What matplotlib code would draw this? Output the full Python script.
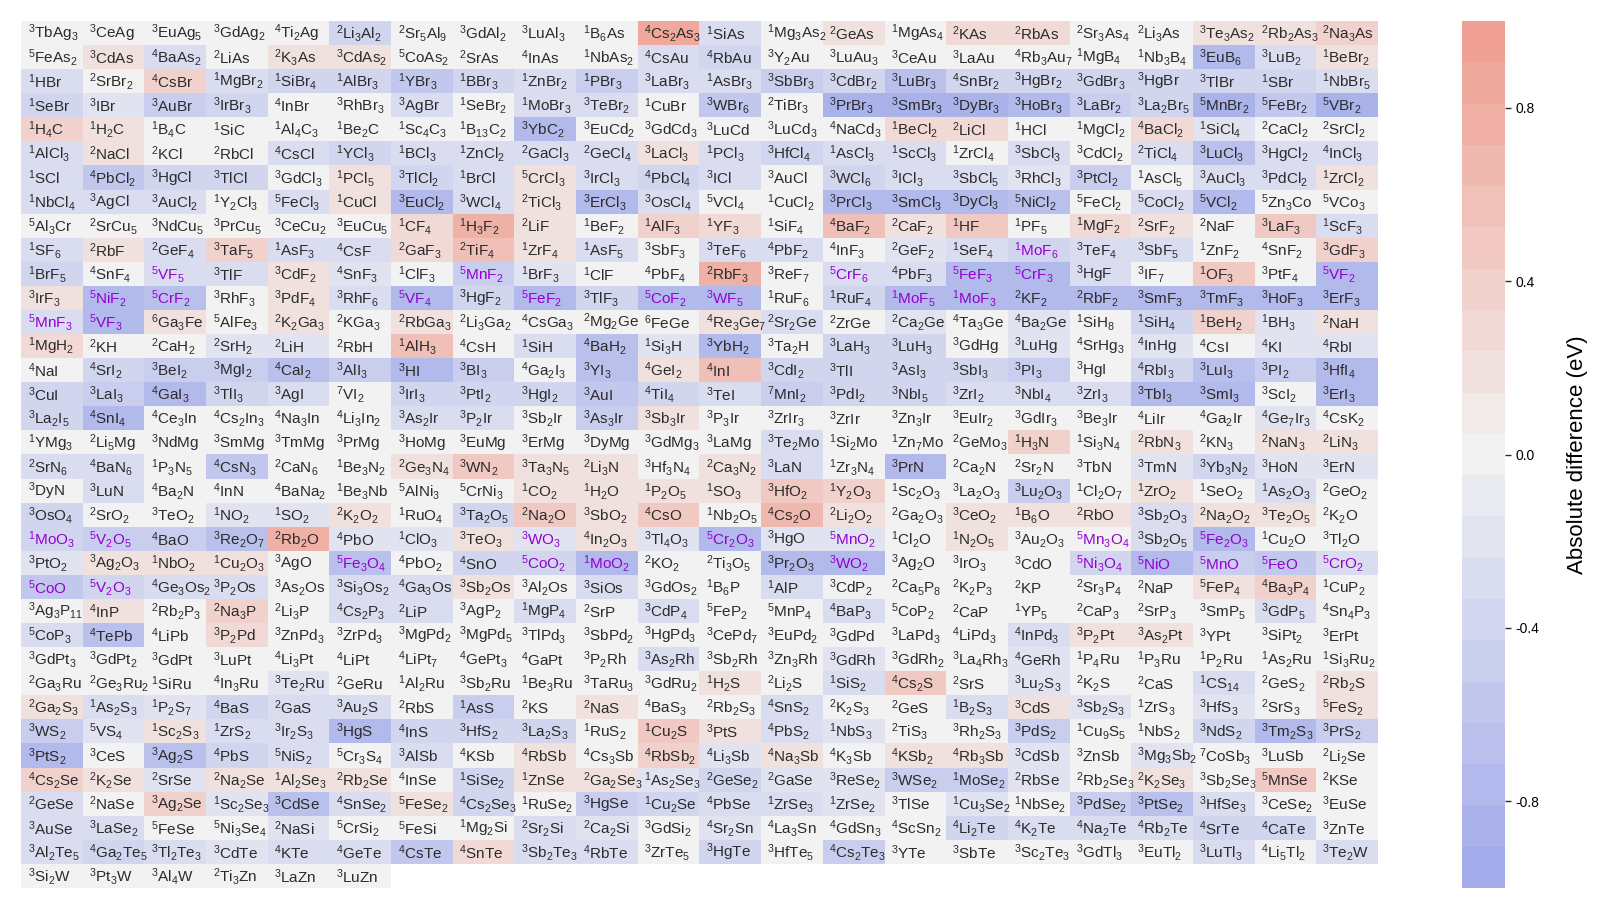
import re
import numpy as np
import matplotlib
matplotlib.use("Agg")
import matplotlib.pyplot as plt
from matplotlib.colors import LinearSegmentedColormap

plt.rcParams['font.family'] = ['Liberation Sans', 'DejaVu Sans']
plt.rcParams['mathtext.default'] = 'regular'
plt.rcParams['axes.unicode_minus'] = False

# compounds, one string per row: leading digit = spin multiplicity, rest = formula
rows = [
    "3TbAg3 3CeAg 3EuAg5 3GdAg2 4Ti2Ag 2Li3Al2 2Sr5Al9 3GdAl2 3LuAl3 1B6As 4Cs2As3 1SiAs 1Mg3As2 2GeAs 1MgAs4 2KAs 2RbAs 2Sr3As4 2Li3As 3Te3As2 2Rb2As3 2Na3As",
    "5FeAs2 3CdAs 4BaAs2 2LiAs 2K3As 3CdAs2 5CoAs2 2SrAs 4InAs 1NbAs2 4CsAu 4RbAu 3Y2Au 3LuAu3 3CeAu 3LaAu 4Rb3Au7 1MgB4 1Nb3B4 3EuB6 3LuB2 1BeBr2",
    "1HBr 2SrBr2 4CsBr 1MgBr2 1SiBr4 1AlBr3 1YBr3 1BBr3 1ZnBr2 1PBr3 3LaBr3 1AsBr3 3SbBr3 3CdBr2 3LuBr3 4SnBr2 3HgBr2 3GdBr3 3HgBr 3TlBr 1SBr 1NbBr5",
    "1SeBr 3IBr 3AuBr 3IrBr3 4InBr 3RhBr3 3AgBr 1SeBr2 1MoBr3 3TeBr2 1CuBr 3WBr6 2TiBr3 3PrBr3 3SmBr3 3DyBr3 3HoBr3 3LaBr2 3La2Br5 5MnBr2 5FeBr2 5VBr2",
    "1H4C 1H2C 1B4C 1SiC 1Al4C3 1Be2C 1Sc4C3 1B13C2 3YbC2 3EuCd2 3GdCd3 3LuCd 3LuCd3 4NaCd3 1BeCl2 2LiCl 1HCl 1MgCl2 4BaCl2 1SiCl4 2CaCl2 2SrCl2",
    "1AlCl3 2NaCl 2KCl 2RbCl 4CsCl 1YCl3 1BCl3 1ZnCl2 2GaCl3 2GeCl4 3LaCl3 1PCl3 3HfCl4 1AsCl3 1ScCl3 1ZrCl4 3SbCl3 3CdCl2 2TiCl4 3LuCl3 3HgCl2 4InCl3",
    "1SCl 4PbCl2 3HgCl 3TlCl 3GdCl3 1PCl5 3TlCl2 1BrCl 5CrCl3 3IrCl3 4PbCl4 3ICl 3AuCl 3WCl6 3ICl3 3SbCl5 3RhCl3 3PtCl2 1AsCl5 3AuCl3 3PdCl2 1ZrCl2",
    "1NbCl4 3AgCl 3AuCl2 1Y2Cl3 5FeCl3 1CuCl 3EuCl2 3WCl4 2TiCl3 3ErCl3 3OsCl4 5VCl4 1CuCl2 3PrCl3 3SmCl3 3DyCl3 5NiCl2 5FeCl2 5CoCl2 5VCl2 5Zn3Co 5VCo3",
    "5Al3Cr 2SrCu5 3NdCu5 3PrCu5 3CeCu2 3EuCu5 1CF4 1H3F2 2LiF 1BeF2 1AlF3 1YF3 1SiF4 4BaF2 2CaF2 1HF 1PF5 1MgF2 2SrF2 2NaF 3LaF3 1ScF3",
    "1SF6 2RbF 2GeF4 3TaF5 1AsF3 4CsF 2GaF3 2TiF4 1ZrF4 1AsF5 3SbF3 3TeF6 4PbF2 4InF3 2GeF2 1SeF4 1MoF6 3TeF4 3SbF5 1ZnF2 4SnF2 3GdF3",
    "1BrF5 4SnF4 5VF5 3TlF 3CdF2 4SnF3 1ClF3 5MnF2 1BrF3 1ClF 4PbF4 2RbF3 3ReF7 5CrF6 4PbF3 5FeF3 5CrF3 3HgF 3IF7 1OF3 3PtF4 5VF2",
    "3IrF3 5NiF2 5CrF2 3RhF3 3PdF4 3RhF6 5VF4 3HgF2 5FeF2 3TlF3 5CoF2 3WF5 1RuF6 1RuF4 1MoF5 1MoF3 2KF2 2RbF2 3SmF3 3TmF3 3HoF3 3ErF3",
    "5MnF3 5VF3 6Ga3Fe 5AlFe3 2K2Ga3 2KGa3 2RbGa3 2Li3Ga2 4CsGa3 2Mg2Ge 6FeGe 4Re3Ge7 2Sr2Ge 2ZrGe 2Ca2Ge 4Ta3Ge 4Ba2Ge 1SiH8 1SiH4 1BeH2 1BH3 2NaH",
    "1MgH2 2KH 2CaH2 2SrH2 2LiH 2RbH 1AlH3 4CsH 1SiH 4BaH2 1Si3H 3YbH2 3Ta2H 3LaH3 3LuH3 3GdHg 3LuHg 4SrHg3 4InHg 4CsI 4KI 4RbI",
    "4NaI 4SrI2 3BeI2 3MgI2 4CaI2 3AlI3 3HI 3BI3 4Ga2I3 3YI3 4GeI2 4InI 3CdI2 3TlI 3AsI3 3SbI3 3PI3 3HgI 4RbI3 3LuI3 3PI2 3HfI4",
    "3CuI 3LaI3 4GaI3 3TlI3 3AgI 7VI2 3IrI3 3PtI2 3HgI2 3AuI 4TiI4 3TeI 7MnI2 3PdI2 3NbI5 3ZrI2 3NbI4 3ZrI3 3TbI3 3SmI3 3ScI2 3ErI3",
    "3La2I5 4SnI4 4Ce3In 4Cs2In3 4Na3In 4Li3In2 3As2Ir 3P2Ir 3Sb2Ir 3As3Ir 3Sb3Ir 3P3Ir 3ZrIr3 3ZrIr 3Zn3Ir 3EuIr2 3GdIr3 3Be3Ir 4LiIr 4Ga2Ir 4Ge7Ir3 4CsK2",
    "1YMg3 2Li5Mg 3NdMg 3SmMg 3TmMg 3PrMg 3HoMg 3EuMg 3ErMg 3DyMg 3GdMg3 3LaMg 3Te2Mo 1Si2Mo 1Zn7Mo 2GeMo3 1H3N 1Si3N4 2RbN3 2KN3 2NaN3 2LiN3",
    "2SrN6 4BaN6 1P3N5 4CsN3 2CaN6 1Be3N2 2Ge3N4 3WN2 3Ta3N5 2Li3N 3Hf3N4 2Ca3N2 3LaN 1Zr3N4 3PrN 2Ca2N 2Sr2N 3TbN 3TmN 3Yb3N2 3HoN 3ErN",
    "3DyN 3LuN 4Ba2N 4InN 4BaNa2 1Be3Nb 5AlNi3 5CrNi3 1CO2 1H2O 1P2O5 1SO3 3HfO2 1Y2O3 1Sc2O3 3La2O3 3Lu2O3 1Cl2O7 1ZrO2 1SeO2 1As2O3 2GeO2",
    "3OsO4 2SrO2 3TeO2 1NO2 1SO2 2K2O2 1RuO4 3Ta2O5 2Na2O 3SbO2 4CsO 1Nb2O5 4Cs2O 2Li2O2 2Ga2O3 3CeO2 1B6O 2RbO 3Sb2O3 2Na2O2 3Te2O5 2K2O",
    "1MoO3 5V2O5 4BaO 3Re2O7 2Rb2O 4PbO 1ClO3 3TeO3 3WO3 4In2O3 3Tl4O3 5Cr2O3 3HgO 5MnO2 1Cl2O 1N2O5 3Au2O3 5Mn3O4 3Sb2O5 5Fe2O3 1Cu2O 3Tl2O",
    "3PtO2 3Ag2O3 1NbO2 1Cu2O3 3AgO 5Fe3O4 4PbO2 4SnO 5CoO2 1MoO2 2KO2 2Ti3O5 3Pr2O3 3WO2 3Ag2O 3IrO3 3CdO 5Ni3O4 5NiO 5MnO 5FeO 5CrO2",
    "5CoO 5V2O3 4Ge3Os2 3P2Os 3As2Os 3Si3Os2 4Ga3Os 3Sb2Os 3Al2Os 3SiOs 3GdOs2 1B6P 1AlP 3CdP2 2Ca5P8 2K2P3 2KP 2Sr3P4 2NaP 5FeP4 4Ba3P4 1CuP2",
    "3Ag3P11 4InP 2Rb2P3 2Na3P 2Li3P 4Cs2P3 2LiP 3AgP2 1MgP4 2SrP 3CdP4 5FeP2 5MnP4 4BaP3 5CoP2 2CaP 1YP5 2CaP3 2SrP3 3SmP5 3GdP5 4Sn4P3",
    "5CoP3 4TePb 4LiPb 3P2Pd 3ZnPd3 3ZrPd3 3MgPd2 3MgPd5 3TlPd3 3SbPd2 3HgPd3 3CePd7 3EuPd2 3GdPd 3LaPd3 4LiPd3 4InPd3 3P2Pt 3As2Pt 3YPt 3SiPt2 3ErPt",
    "3GdPt3 3GdPt2 3GdPt 3LuPt 4Li3Pt 4LiPt 4LiPt7 4GePt3 4GaPt 3P2Rh 3As2Rh 3Sb2Rh 3Zn3Rh 3GdRh 3GdRh2 3La4Rh3 4GeRh 1P4Ru 1P3Ru 1P2Ru 1As2Ru 1Si3Ru2",
    "2Ga3Ru 2Ge3Ru2 1SiRu 4In3Ru 3Te2Ru 2GeRu 1Al2Ru 3Sb2Ru 1Be3Ru 3TaRu3 3GdRu2 1H2S 2Li2S 1SiS2 4Cs2S 2SrS 3Lu2S3 2K2S 2CaS 1CS14 2GeS2 2Rb2S",
    "2Ga2S3 1As2S3 1P2S7 4BaS 2GaS 3Au2S 2RbS 1AsS 2KS 2NaS 4BaS3 2Rb2S3 4SnS2 2K2S3 2GeS 1B2S3 3CdS 3Sb2S3 1ZrS3 3HfS3 2SrS3 5FeS2",
    "3WS2 5VS4 1Sc2S3 1ZrS2 3Ir2S3 3HgS 4InS 3HfS2 3La2S3 1RuS2 1Cu2S 3PtS 4PbS2 1NbS3 2TiS3 3Rh2S3 3PdS2 1Cu9S5 1NbS2 3NdS2 3Tm2S3 3PrS2",
    "3PtS2 3CeS 3Ag2S 4PbS 5NiS2 5Cr3S4 3AlSb 4KSb 4RbSb 4Cs3Sb 4RbSb2 4Li3Sb 4Na3Sb 4K3Sb 4KSb2 4Rb3Sb 3CdSb 3ZnSb 3Mg3Sb2 7CoSb3 3LuSb 2Li2Se",
    "4Cs2Se 2K2Se 2SrSe 2Na2Se 1Al2Se3 2Rb2Se 4InSe 1SiSe2 1ZnSe 2Ga2Se3 1As2Se3 2GeSe2 2GaSe 3ReSe2 3WSe2 1MoSe2 2RbSe 2Rb2Se3 2K2Se3 3Sb2Se3 5MnSe 2KSe",
    "2GeSe 2NaSe 3Ag2Se 1Sc2Se3 3CdSe 4SnSe2 5FeSe2 4Cs2Se3 1RuSe2 3HgSe 1Cu2Se 4PbSe 1ZrSe3 1ZrSe2 3TlSe 1Cu3Se2 1NbSe2 3PdSe2 3PtSe2 3HfSe3 3CeSe2 3EuSe",
    "3AuSe 3LaSe2 5FeSe 5Ni3Se4 2NaSi 5CrSi2 5FeSi 1Mg2Si 2Sr2Si 2Ca2Si 3GdSi2 4Sr2Sn 4La3Sn 4GdSn3 4ScSn2 4Li2Te 4K2Te 4Na2Te 4Rb2Te 4SrTe 4CaTe 3ZnTe",
    "3Al2Te5 4Ga2Te5 3Tl2Te3 3CdTe 4KTe 4GeTe 4CsTe 4SnTe 3Sb2Te3 4RbTe 3ZrTe5 3HgTe 3HfTe5 4Cs2Te3 3YTe 3SbTe 3Sc2Te3 3GdTl3 3EuTl2 3LuTl3 4Li5Tl2 3Te2W",
    "3Si2W 3Pt3W 3Al4W 2Ti3Zn 3LaZn 3LuZn",
]

# absolute difference (eV), same layout as rows
diffs = [
    [0, 0, 0, 0, 0, -0.4, 0, 0, 0, 0, 0.9, -0.25, 0, 0.2, 0, 0.3, 0.3, 0, 0, 0.2, 0.2, 0.4],
    [0, 0.2, -0.25, 0, 0.2, 0.2, 0, 0, 0, 0, -0.25, -0.4, 0, 0, 0, 0, 0, 0, 0, -0.8, -0.25, 0.2],
    [-0.25, 0, 0.4, -0.25, -0.4, -0.35, -0.6, -0.4, -0.25, -0.5, -0.25, -0.25, -0.5, -0.35, -0.7, -0.35, -0.35, -0.35, -0.4, -0.4, -0.35, -0.25],
    [-0.35, -0.15, -0.5, -0.35, 0, 0, -0.25, 0, -0.25, -0.25, 0, -0.6, 0, -0.9, -0.9, -0.9, -0.8, -0.5, -0.35, -0.9, -0.6, -0.9],
    [0.4, 0.2, 0, 0, 0, 0, 0, 0, -0.8, 0, 0, 0, 0, 0, 0.3, 0.3, 0, 0, 0.3, -0.15, 0, 0],
    [-0.25, 0.2, 0, 0, -0.25, -0.4, -0.25, -0.25, -0.25, -0.25, 0.2, -0.25, -0.35, -0.25, -0.25, 0, -0.25, 0, -0.25, -0.7, -0.25, -0.25],
    [-0.25, -0.6, -0.4, -0.35, 0, 0.2, -0.4, -0.25, 0.2, -0.25, -0.4, -0.25, 0, -0.35, -0.25, -0.25, -0.15, -0.5, 0, -0.25, -0.25, 0.2],
    [-0.25, -0.25, -0.25, 0, -0.25, 0.2, -0.8, -0.25, 0.2, -0.8, -0.25, 0, 0, -0.8, -0.8, -0.8, -0.7, 0, -0.25, -0.8, 0, 0],
    [0, 0, 0, 0, 0, 0, 0.3, 0.8, 0.2, 0, 0.4, 0.3, 0, 0.6, 0.2, 0.45, 0, 0.3, 0.2, 0, 0.45, -0.25],
    [-0.25, 0.2, -0.25, 0.4, -0.25, -0.25, 0.3, 0.6, 0.2, -0.25, 0, -0.25, -0.25, 0, -0.15, -0.25, -0.35, -0.25, -0.25, 0, 0, 0.4],
    [-0.35, 0, -0.25, -0.25, 0.2, -0.15, 0, -0.5, -0.15, 0, 0, 0.8, 0, -0.25, -0.25, -0.8, -0.8, -0.25, 0, 0.45, 0, -0.8],
    [0.2, -0.8, -0.7, 0, 0.2, -0.25, -0.8, -0.35, -0.8, -0.4, -0.8, -0.8, 0, -0.35, -0.8, -0.8, -0.8, -0.8, -0.8, -0.8, -0.8, -0.8],
    [-0.25, -0.8, 0.2, 0, 0.2, 0, 0.2, 0, 0, 0, 0, 0.2, -0.25, 0, -0.15, 0, -0.15, 0, -0.4, 0.4, -0.15, 0.2],
    [0.3, 0, 0, -0.15, -0.15, 0, 0.55, 0, -0.25, -0.7, -0.15, -0.8, 0, -0.4, -0.35, 0, -0.15, 0, -0.15, 0, -0.15, -0.15],
    [0, -0.4, -0.5, -0.5, -0.7, -0.5, -0.8, -0.5, 0, -0.7, 0.2, 0.6, -0.4, -0.4, -0.35, -0.35, -0.5, 0, -0.35, -0.7, -0.5, -0.8],
    [-0.35, -0.5, -0.8, -0.35, -0.25, 0, -0.35, -0.4, -0.4, -0.6, -0.4, -0.25, -0.5, -0.4, -0.35, -0.25, -0.25, -0.25, -0.8, -0.8, 0, -0.8],
    [-0.35, -0.8, 0, 0, 0, 0, -0.25, -0.25, 0, -0.5, 0.2, 0, 0, 0, 0, 0, 0, 0, 0, 0, -0.15, 0],
    [0, 0, 0, 0, 0, 0, 0, 0, 0, 0, 0, 0, -0.25, 0, 0, 0, 0.4, 0, 0.2, 0, 0.2, 0.2],
    [-0.25, -0.25, 0, -0.6, 0, 0, 0.2, 0.45, 0.2, 0.2, 0, 0.2, -0.25, 0, -0.8, 0, 0, 0, -0.15, -0.35, -0.15, -0.15],
    [0, -0.25, 0, 0, 0, 0, 0, 0, 0.2, 0.2, 0.2, 0.2, 0.45, 0.4, 0, 0, -0.5, 0, 0.2, 0, -0.25, 0],
    [-0.35, 0, 0, -0.15, -0.15, 0.2, 0, -0.35, 0.45, 0.2, 0.45, 0, 0.65, 0.2, 0, 0.2, 0.2, 0.2, -0.25, 0.2, 0.2, 0],
    [-0.4, -0.5, -0.5, -0.7, 0.75, -0.15, -0.15, 0.2, -0.15, 0.2, -0.15, -0.8, -0.15, -0.15, 0, 0.2, 0, 0, -0.25, -0.8, 0, 0],
    [-0.15, 0.2, 0.2, 0.2, 0, -0.7, 0, -0.4, -0.4, -0.8, 0, 0, -0.8, -0.8, 0, 0, 0, -0.35, -0.8, -0.5, -0.6, -0.25],
    [-0.6, -0.4, -0.25, -0.25, 0, -0.25, -0.25, 0.2, 0, -0.25, 0, 0, -0.25, 0, 0, 0, 0, 0, 0, 0.2, 0.4, 0],
    [0, 0.2, 0, 0.4, 0, -0.25, -0.25, 0, -0.25, 0, -0.25, 0, 0, -0.25, 0, 0, 0, 0, 0, 0, -0.25, 0],
    [-0.25, -0.7, 0, 0.3, 0, 0, 0, 0, 0, 0, 0, 0, 0, 0, 0, 0, -0.25, 0.2, 0.2, 0, 0, 0],
    [0, 0, 0, 0, 0, 0, 0, 0, 0, 0, -0.25, 0, 0, -0.15, 0, 0, -0.15, 0, 0, 0, 0, 0],
    [0, 0, 0, 0, -0.15, 0, 0, 0, 0, 0, 0, 0.2, 0, -0.25, 0.45, 0, -0.15, 0, 0, -0.25, 0, 0.2],
    [0.2, -0.25, -0.15, -0.4, -0.25, -0.25, 0, -0.5, 0, 0.2, 0, 0, -0.25, 0, 0, -0.25, 0.2, -0.15, 0, -0.15, 0, 0.2],
    [-0.5, -0.15, 0.2, -0.25, -0.25, -0.8, -0.4, -0.35, -0.35, 0, 0.45, 0.2, -0.25, -0.15, 0, 0, -0.5, 0, 0, -0.4, -0.8, -0.5],
    [-0.8, 0, -0.7, -0.4, -0.25, 0, -0.25, 0, 0.2, 0, 0.4, -0.15, 0.2, 0, 0.2, 0.2, -0.15, 0, -0.15, 0, 0, 0],
    [0.4, 0.2, -0.15, 0.2, 0.2, 0.2, 0, -0.4, 0.2, 0.2, -0.15, -0.35, -0.15, -0.15, -0.5, -0.5, -0.15, 0, 0.2, 0, 0.45, 0],
    [-0.25, 0, 0.4, -0.15, -0.7, -0.25, 0.2, -0.35, 0, -0.5, -0.4, -0.25, -0.25, -0.15, 0, -0.15, 0, -0.5, -0.7, -0.25, 0, 0],
    [-0.25, -0.25, 0, 0, -0.15, 0, 0, 0, -0.25, -0.15, 0, -0.15, 0, 0, 0, -0.4, -0.25, -0.25, -0.25, -0.35, -0.35, 0],
    [-0.25, -0.35, -0.25, -0.15, -0.25, -0.25, -0.6, 0.3, -0.25, -0.25, 0, -0.4, 0, -0.5, 0, 0, 0, 0, 0, -0.25, 0, -0.25],
    [0, 0, 0, 0, 0, 0],
]

# compounds computed with a Hubbard U (drawn in purple)
hubbard_u = {
    "VF5", "MnF2", "CrF6", "FeF3", "CrF3", "VF2", "NiF2", "CrF2", "VF4", "FeF2",
    "CoF2", "WF5", "MoF5", "MoF3", "MnF3", "VF3", "MoF6", "MoO3", "V2O5", "WO3",
    "Cr2O3", "MnO2", "Mn3O4", "Fe2O3", "Fe3O4", "CoO2", "MoO2", "WO2", "Ni3O4",
    "NiO", "MnO", "FeO", "CrO2", "CoO", "V2O3",
}

ncols = 22
nrows = len(rows)
grid = np.full((nrows, ncols), np.nan)
for i, vals in enumerate(diffs):
    grid[i, :len(vals)] = vals


def label(tok):
    mult, formula = tok[0], tok[1:]
    return "$^{%s}$" % mult + re.sub(r"(\d+)", r"$_{\1}$", formula)


cmap = LinearSegmentedColormap.from_list(
    "diff", ["#a3abea", "#f2f2f2", "#efa092"], N=21)
cmap.set_bad("white")

fig = plt.figure(figsize=(16, 9.1), dpi=100)
ax = fig.add_axes([21 / 1600, 1 - 888 / 910, 1356 / 1600, 867 / 910])
im = ax.imshow(np.ma.masked_invalid(grid), cmap=cmap, vmin=-1, vmax=1,
               aspect="auto", interpolation="nearest")

for i, line in enumerate(rows):
    for j, tok in enumerate(line.split()):
        color = "#9400d3" if tok[1:] in hubbard_u else "#2b2b2b"
        ax.text(j - 0.39, i + 0.02, label(tok), ha="left", va="center",
                fontsize=11, color=color)
ax.set_xlim(-0.5, ncols - 0.5)
ax.set_ylim(nrows - 0.5, -0.5)
ax.axis("off")

cax = fig.add_axes([1462 / 1600, 1 - 888 / 910, 43 / 1600, 867 / 910])
cb = fig.colorbar(im, cax=cax)
cb.outline.set_visible(False)
cb.set_ticks([-0.8, -0.4, 0.0, 0.4, 0.8])
cb.ax.tick_params(labelsize=10, length=4, width=1, color="#2b2b2b")
cb.set_label("Absolute difference (eV)", fontsize=16, labelpad=20)

fig.savefig("out.png", dpi=100)
